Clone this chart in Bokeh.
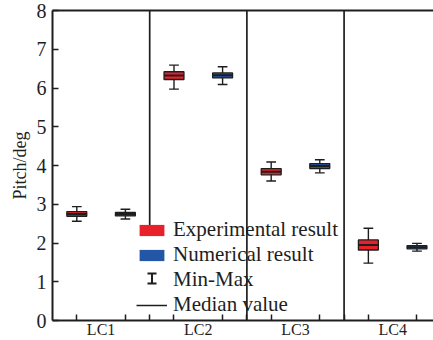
import numpy as np
from bokeh.plotting import figure
from bokeh.models import (FixedTicker, LinearAxis, Span, Legend, LegendItem, Range1d,
                          Whisker, TeeHead)
from bokeh.embed import file_html
from bokeh.resources import INLINE

# ---- data ----
cases = ["LC1", "LC2", "LC3", "LC4"]
exp_min = [2.56, 5.97, 3.60, 1.48]
exp_q1 = [2.69, 6.22, 3.76, 1.82]
exp_med = [2.75, 6.32, 3.84, 1.95]
exp_q3 = [2.81, 6.42, 3.92, 2.08]
exp_max = [2.94, 6.59, 4.09, 2.38]
num_min = [2.62, 6.09, 3.81, 1.79]
num_q1 = [2.70, 6.26, 3.92, 1.85]
num_med = [2.75, 6.33, 3.99, 1.89]
num_q3 = [2.79, 6.39, 4.05, 1.93]
num_max = [2.87, 6.55, 4.15, 1.99]
y_ticks = [0, 1, 2, 3, 4, 5, 6, 7, 8]
legend_labels = ["Experimental result", "Numerical result", "Min-Max", "Median value"]

RED = "#e8202a"
BLUE = "#2456a6"
FONT = "Liberation Serif"
INK = "#1e1e1e"

p = figure(width=433, height=340, output_backend="svg", toolbar_location=None,
           x_range=Range1d(0, 7.84), y_range=Range1d(0, 8),
           min_border_left=52, min_border_right=0, min_border_top=10, min_border_bottom=0)
p.outline_line_color = None
p.grid.visible = False
p.background_fill_color = "white"

n = len(cases)
centers = [2 * i + 1 for i in range(n)]
x_exp = [c - 0.5 for c in centers]
x_num = [c + 0.5 for c in centers]
BOX_W = 0.41
CAP_W = 0.2


def draw_boxes(xs, mn, q1, md, q3, mx, color):
    p.segment(x0=xs, y0=mn, x1=xs, y1=mx, line_color=INK, line_width=1.4)
    p.segment(x0=[x - CAP_W / 2 for x in xs], y0=mx, x1=[x + CAP_W / 2 for x in xs], y1=mx,
              line_color=INK, line_width=1.4)
    p.segment(x0=[x - CAP_W / 2 for x in xs], y0=mn, x1=[x + CAP_W / 2 for x in xs], y1=mn,
              line_color=INK, line_width=1.4)
    p.vbar(x=xs, width=BOX_W, bottom=q1, top=q3, fill_color=color, line_color=INK, line_width=1.3)
    p.segment(x0=[x - BOX_W / 2 for x in xs], y0=md, x1=[x + BOX_W / 2 for x in xs], y1=md,
              line_color=INK, line_width=2)


draw_boxes(x_exp, exp_min, exp_q1, exp_med, exp_q3, exp_max, RED)
draw_boxes(x_num, num_min, num_q1, num_med, num_q3, num_max, BLUE)

# section dividers
p.segment(x0=[2], y0=[2.35], x1=[2], y1=[8], line_color=INK, line_width=1.7)
for xv in [4, 6]:
    p.add_layout(Span(location=xv, dimension="height", line_color=INK, line_width=1.7))

# axes
xa = p.xaxis[0]
xa.ticker = FixedTicker(ticks=centers,
                        minor_ticks=[v for c in centers for v in (c - 0.5, c + 0.5, c + 1) if v < 8])
xa.major_label_overrides = {c: lab for c, lab in zip(centers, cases)}
xa.axis_label = None
xa.major_tick_in = 0
xa.major_tick_out = 0
xa.minor_tick_in = 6
xa.minor_tick_out = 0
xa.minor_tick_line_width = 1.5
xa.minor_tick_line_color = INK
xa.axis_line_width = 2
xa.axis_line_color = INK
xa.major_label_text_font = FONT
xa.major_label_text_font_size = "16px"
xa.major_label_standoff = 0
xa.major_label_text_color = INK

ya = p.yaxis[0]
ya.ticker = FixedTicker(ticks=y_ticks, minor_ticks=[])
ya.major_tick_in = 6
ya.major_tick_out = 0
ya.major_tick_line_width = 1.5
ya.major_tick_line_color = INK
ya.axis_line_width = 2
ya.axis_line_color = INK
ya.major_label_text_font = FONT
ya.major_label_text_font_size = "20px"
ya.major_label_standoff = 6
ya.major_label_text_color = INK
ya.axis_label = "Pitch/deg"
ya.axis_label_text_font = FONT
ya.axis_label_text_font_style = "normal"
ya.axis_label_text_font_size = "18px"
ya.axis_label_standoff = 4
ya.axis_label_text_color = INK

top = LinearAxis(ticker=FixedTicker(ticks=[]), major_label_text_font_size="0px",
                 major_tick_line_color=None, minor_tick_line_color=None,
                 axis_line_width=2, axis_line_color=INK)
p.add_layout(top, "above")

# legend proxies (kept outside the visible range so only the legend shows them)
OFF = [-5]
r_exp = p.quad(left=OFF, right=OFF, top=OFF, bottom=OFF, fill_color=RED, line_color=None)
r_num = p.quad(left=OFF, right=OFF, top=OFF, bottom=OFF, fill_color=BLUE, line_color=None)
r_mm = p.scatter(x=OFF, y=OFF, marker="dash", size=1, line_alpha=0, fill_alpha=0)
r_md = p.line(x=OFF, y=OFF, line_color=INK, line_width=1.5)
LEG_X, LEG_Y = 84, 3
legend = Legend(items=[LegendItem(label=lab, renderers=[r]) for lab, r in
                       zip(legend_labels, [r_exp, r_num, r_mm, r_md])],
                location=(LEG_X, LEG_Y), padding=0, margin=0, spacing=-2,
                glyph_width=31, glyph_height=14, label_height=14, label_standoff=6,
                border_line_color=None, background_fill_alpha=0,
                label_text_font=FONT, label_text_font_size="21px", label_text_color=INK)
p.add_layout(legend)

# Min-Max legend icon: an I-shaped whisker in screen units (relative to the frame)
mm_icon = Whisker(base=LEG_X + 15.5, lower=LEG_Y + 34, upper=LEG_Y + 44, dimension="height",
                  base_units="screen", lower_units="screen", upper_units="screen",
                  line_color=INK, line_width=2,
                  upper_head=TeeHead(size=9, line_color=INK, line_width=2),
                  lower_head=TeeHead(size=9, line_color=INK, line_width=2))
p.add_layout(mm_icon)

open("out.html", "w").write(file_html(p, INLINE))
